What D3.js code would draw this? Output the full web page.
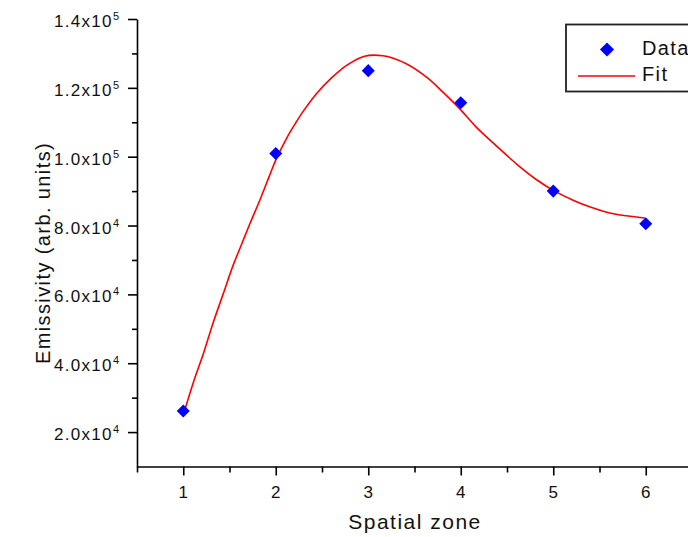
<!DOCTYPE html>
<html>
<head>
<meta charset="utf-8">
<script src="https://cdn.jsdelivr.net/npm/d3@7"></script>
<style>
  html, body { margin: 0; padding: 0; background: #fff; }
  svg { display: block; }
  text { font-family: "Liberation Sans", Arial, sans-serif; fill: #111; }
</style>
</head>
<body>
<svg id="chart" width="688" height="537"></svg>
<script>
// ---- data ----
const zones = [1, 2, 3, 4, 5, 6];
const emissivity = [26100, 100900, 125000, 115700, 90000, 80500];

const fitX = [1.00, 1.11, 1.22, 1.32, 1.43, 1.54, 1.63, 1.72, 1.83, 1.94, 2.00, 2.12, 2.22, 2.30, 2.44, 2.60, 2.77, 2.96, 3.16, 3.41, 3.63, 3.81, 3.99, 4.17, 4.39, 4.62, 4.82, 5.00, 5.22, 5.40, 5.65, 5.83, 5.99];
const fitY = [24900, 34500, 43000, 51500, 60000, 68500, 74500, 80500, 87500, 95000, 99000, 105500, 110000, 113300, 118300, 122800, 126600, 129200, 129300, 127000, 123100, 118700, 113900, 108500, 103000, 97500, 93300, 90200, 87300, 85400, 83400, 82700, 82200];

const xTickValues = [1, 2, 3, 4, 5, 6];
const xMinorTicks = [0.5, 1.5, 2.5, 3.5, 4.5, 5.5, 6.5];
const yTickValues = [20000, 40000, 60000, 80000, 100000, 120000, 140000];
const yTickMantissas = ["2.0", "4.0", "6.0", "8.0", "1.0", "1.2", "1.4"];
const yTickExponents = ["4", "4", "4", "4", "5", "5", "5"];
const yMinorTicks = [30000, 50000, 70000, 90000, 110000, 130000];

const xLabel = "Spatial zone";
const yLabel = "Emissivity (arb. units)";
const legendLabels = ["Data", "Fit"];

// ---- layout ----
const svg = d3.select("#chart");
const x = d3.scaleLinear().domain([0.5, 6.5]).range([137, 692]);
const y = d3.scaleLinear().domain([10000, 140000]).range([466.5, 19]);

function styleAxis(g) {
  g.selectAll("path.domain").attr("stroke", "#000").attr("stroke-width", 1.6);
  g.selectAll(".tick line").attr("stroke", "#000").attr("stroke-width", 1.6);
  g.selectAll(".tick text").remove();
}

// x axis
svg.append("g").attr("transform", `translate(0,${y.range()[0]})`)
  .call(d3.axisBottom(x).tickValues(xMinorTicks).tickSize(6).tickSizeOuter(0).tickFormat(""))
  .call(styleAxis);
svg.append("g").attr("transform", `translate(0,${y.range()[0]})`)
  .call(d3.axisBottom(x).tickValues(xTickValues).tickSize(9).tickSizeOuter(0).tickFormat(""))
  .call(styleAxis)
  .call(g => g.select("path.domain").remove());

// y axis
svg.append("g").attr("transform", `translate(${x.range()[0]},0)`)
  .call(d3.axisLeft(y).tickValues(yMinorTicks).tickSize(5).tickSizeOuter(0).tickFormat(""))
  .call(styleAxis);
svg.append("g").attr("transform", `translate(${x.range()[0]},0)`)
  .call(d3.axisLeft(y).tickValues(yTickValues).tickSize(9).tickSizeOuter(0).tickFormat(""))
  .call(styleAxis)
  .call(g => g.select("path.domain").remove());

// x tick labels
svg.append("g").selectAll("text").data(xTickValues).join("text")
  .attr("x", d => x(d))
  .attr("y", 497.5)
  .attr("text-anchor", "middle")
  .attr("font-size", 17)
  .text(d => d);

// y tick labels with superscripts
const yl = svg.append("g").selectAll("text").data(yTickValues).join("text")
  .attr("x", 119)
  .attr("y", d => y(d) + 8)
  .attr("text-anchor", "end")
  .attr("font-size", 17)
  .attr("letter-spacing", "1.3px");
yl.append("tspan").text((d, i) => yTickMantissas[i] + "x10");
yl.append("tspan").attr("font-size", 11).attr("dy", -7).attr("letter-spacing", "0px")
  .text((d, i) => yTickExponents[i]);

// axis titles
svg.append("text")
  .attr("x", 415).attr("y", 529)
  .attr("text-anchor", "middle")
  .attr("font-size", 21)
  .attr("letter-spacing", "1.5px")
  .text(xLabel);
svg.append("text")
  .attr("transform", "translate(50,253) rotate(-90)")
  .attr("text-anchor", "middle")
  .attr("font-size", 20)
  .attr("letter-spacing", "1.4px")
  .text(yLabel);

// fit curve
const fitData = fitX.map((v, i) => [v, fitY[i]]);
const fitLine = d3.line().x(d => x(d[0])).y(d => y(d[1])).curve(d3.curveCatmullRom);
svg.append("path")
  .datum(fitData)
  .attr("fill", "none")
  .attr("stroke", "#ff0000")
  .attr("stroke-width", 1.6)
  .attr("d", fitLine);

// data diamonds
const diamondPath = d3.symbol().type(d3.symbolSquare).size(85);
svg.append("g").selectAll("path").data(zones).join("path")
  .attr("transform", (d, i) => `translate(${x(d)},${y(emissivity[i])}) rotate(45)`)
  .attr("d", diamondPath)
  .attr("fill", "#0000ff");

// legend
const lg = svg.append("g");
lg.append("rect")
  .attr("x", 566).attr("y", 24.5)
  .attr("width", 160).attr("height", 67)
  .attr("fill", "#fff")
  .attr("stroke", "#222")
  .attr("stroke-width", 1.8);
lg.append("path")
  .attr("transform", "translate(607,49.5) rotate(45)")
  .attr("d", d3.symbol().type(d3.symbolSquare).size(100))
  .attr("fill", "#0000ff");
lg.append("line")
  .attr("x1", 578).attr("x2", 635).attr("y1", 76).attr("y2", 76)
  .attr("stroke", "#ff0000").attr("stroke-width", 1.6);
lg.selectAll("text").data(legendLabels).join("text")
  .attr("x", 642)
  .attr("y", (d, i) => i === 0 ? 55 : 80.5)
  .attr("font-size", 20)
  .attr("letter-spacing", "1.4px")
  .text(d => d);
</script>
</body>
</html>
